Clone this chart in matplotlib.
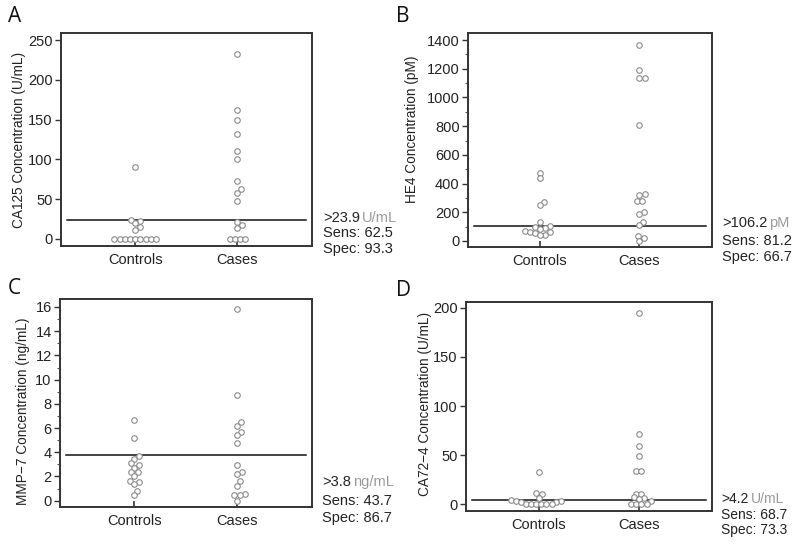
import numpy as np
import matplotlib
matplotlib.use('Agg')
import matplotlib.pyplot as plt
from matplotlib.ticker import MultipleLocator

plt.rcParams['font.family'] = ['Liberation Sans', 'DejaVu Sans']

groups = ['Controls', 'Cases']

# A - CA125 (U/mL)
ca125_controls = [91, 23.8, 23.0, 19.7, 14.3, 10.9, 0, 0, 0, 0, 0, 0, 0, 0, 0]
ca125_cases = [233, 162, 149, 132, 111, 101, 72.6, 62.5, 57.9, 47, 20.6, 17.2, 13.4, 0, 0, 0, 0]
ca125_cut, ca125_unit, ca125_sens, ca125_spec = '23.9', 'U/mL', '62.5', '93.3'

# B - HE4 (pM)
he4_controls = [475, 438, 269, 248, 134, 105, 95, 90, 85, 70, 65, 60, 55, 45, 40]
he4_cases = [1368, 1194, 1134, 1138, 809, 329, 322, 280, 280, 202, 190, 135, 112, 35, 20, 0]
he4_cut, he4_unit, he4_sens, he4_spec = '106.2', 'pM', '81.2', '66.7'

# C - MMP-7 (ng/mL)
mmp7_controls = [6.69, 5.15, 3.7, 3.47, 3.08, 2.92, 2.73, 2.4, 2.34, 2.07, 1.6, 1.54, 1.4, 0.83, 0.47]
mmp7_cases = [15.86, 8.73, 6.5, 6.2, 5.7, 5.4, 4.76, 2.92, 2.34, 2.2, 1.6, 1.24, 0.52, 0.44, 0.44, 0]
mmp7_cut, mmp7_unit, mmp7_sens, mmp7_spec = '3.8', 'ng/mL', '43.7', '86.7'

# D - CA72-4 (U/mL)
ca724_controls = [32.7, 10.9, 9.9, 6.1, 4.0, 3.5, 3.0, 2.5, 2.0, 0, 0, 0, 0, 0, 0]
ca724_cases = [194.6, 71.8, 59.5, 48.6, 33.7, 33.7, 10.5, 10.5, 7.0, 6.5, 5.0, 2.7, 0, 0, 0, 0]
ca724_cut, ca724_unit, ca724_sens, ca724_spec = '4.2', 'U/mL', '68.7', '73.3'

W, H = 800, 544
fig = plt.figure(figsize=(W / 100, H / 100), dpi=100)

panels = [
    dict(letter='A', ctrl=ca125_controls, case=ca125_cases, cut=ca125_cut, unit=ca125_unit,
         sens=ca125_sens, spec=ca125_spec, ylabel='CA125 Concentration (U/mL)',
         box=(61, 33, 312, 246), ylim=(-9, 259), major=50, minor=None,
         lab=(-0.14, 0.5), letter_xy=(8, 17), txt=(323, 218, 233, 249), fs=10.5),
    dict(letter='B', ctrl=he4_controls, case=he4_cases, cut=he4_cut, unit=he4_unit,
         sens=he4_sens, spec=he4_spec, ylabel='HE4 Concentration (pM)',
         box=(468, 33, 712, 247), ylim=(-42, 1449), major=200, minor=100,
         lab=(-0.2, 0.55), letter_xy=(396, 17), txt=(722, 223, 241, 257), fs=10.5),
    dict(letter='C', ctrl=mmp7_controls, case=mmp7_cases, cut=mmp7_cut, unit=mmp7_unit,
         sens=mmp7_sens, spec=mmp7_spec, ylabel='MMP\u22127 Concentration (ng/mL)',
         box=(60, 299, 312, 507), ylim=(-0.52, 16.66), major=2, minor=1,
         lab=(-0.12, 0.46), letter_xy=(8, 288), txt=(322, 482, 501, 518), fs=10.5),
    dict(letter='D', ctrl=ca724_controls, case=ca724_cases, cut=ca724_cut, unit=ca724_unit,
         sens=ca724_sens, spec=ca724_spec, ylabel='CA72\u22124 Concentration (U/mL)',
         box=(466, 302, 712, 511), ylim=(-7, 206), major=50, minor=None,
         lab=(-0.14, 0.51), letter_xy=(396, 290), txt=(721, 499, 515, 530), fs=10),
]


def swarm_x(ax, xc, values, d):
    # simple beeswarm in pixel space, ties laid out as a centred row
    trans = ax.transData
    x0 = trans.transform((xc, 0))[0]
    vals = np.asarray(values, dtype=float)
    ypix = np.array([trans.transform((xc, v))[1] for v in vals])
    order = np.argsort(vals, kind='stable')
    offs = np.zeros(len(vals))
    placed = []
    i = 0
    while i < len(order):
        j = i
        while j + 1 < len(order) and vals[order[j + 1]] == vals[order[i]]:
            j += 1
        n = j - i + 1
        if n > 1:
            for k in range(n):
                idx = order[i + k]
                offs[idx] = (k - (n - 1) / 2) * d
                placed.append((offs[idx], ypix[idx]))
        else:
            idx = order[i]
            y = ypix[idx]
            ivs = []
            for px, py in placed:
                dy = abs(py - y)
                if dy < d:
                    h = np.sqrt(d * d - dy * dy)
                    ivs.append((px - h, px + h))
            cands = [0.0] + [a for a, b in ivs] + [b for a, b in ivs]
            cands.sort(key=lambda c: (abs(c), -c))
            best = 0.0
            for c in cands:
                if all(not (a + 1e-6 < c < b - 1e-6) for a, b in ivs):
                    best = c
                    break
            offs[idx] = best
            placed.append((best, y))
        i = j + 1
    inv = trans.inverted()
    return [inv.transform((x0 + offs[k], ypix[k]))[0] for k in range(len(vals))]


txt_color = '#222222'
for p in panels:
    x1, y1, x2, y2 = p['box']
    ax = fig.add_axes([x1 / W, 1 - y2 / H, (x2 - x1) / W, (y2 - y1) / H])
    ax.set_xlim(0.275, 2.73)
    ax.set_ylim(*p['ylim'])
    for s in ax.spines.values():
        s.set_linewidth(1.4)
        s.set_color('#333333')

    ax.yaxis.set_major_locator(MultipleLocator(p['major']))
    if p['minor']:
        ax.yaxis.set_minor_locator(MultipleLocator(p['minor']))
    ax.set_yticks([t for t in ax.get_yticks() if 0 <= t <= p['ylim'][1]])
    ax.tick_params(axis='y', direction='out', length=4, width=1, colors='#333333',
                   labelsize=10.5, labelcolor=txt_color, pad=2)
    ax.tick_params(axis='y', which='minor', direction='out', length=2.5, width=0.8, colors='#555555')
    ax.set_xticks([1, 2])
    ax.set_xticklabels(groups)
    ax.tick_params(axis='x', direction='in', length=4, width=1.2, colors='#333333',
                   labelsize=10.5, labelcolor=txt_color, pad=5)

    ax.set_ylabel(p['ylabel'], fontsize=9.8, color=txt_color)
    ax.yaxis.set_label_coords(*p['lab'])

    ax.axhline(float(p['cut']), xmin=0.025, xmax=0.975, color='#111111', lw=1.1, zorder=1)

    for xc, vals in ((1, p['ctrl']), (2, p['case'])):
        xs = swarm_x(ax, xc, vals, 5.2)
        ax.plot(xs, vals, 'o', ms=4.0, mfc='white', mec='#8a8a8a', mew=0.8,
                linestyle='none', zorder=3, clip_on=False)

    lx, ly = p['letter_xy']
    fig.text(lx / W, 1 - ly / H, p['letter'], fontsize=15, va='center', ha='left',
             family=['Open Sans', 'DejaVu Sans'], color='#111111')

    tx, t1, t2, t3 = p['txt']
    fs = p['fs']
    t = fig.text(tx / W, 1 - t1 / H, '>' + p['cut'], fontsize=fs, va='center', color=txt_color)
    bb = t.get_window_extent(renderer=fig.canvas.get_renderer())
    fig.text((bb.x1 + 2) / W, 1 - t1 / H, p['unit'], fontsize=fs, va='center', color='#9a9a9a')
    fig.text(tx / W, 1 - t2 / H, 'Sens: ' + p['sens'], fontsize=fs, va='center', color=txt_color)
    fig.text(tx / W, 1 - t3 / H, 'Spec: ' + p['spec'], fontsize=fs, va='center', color=txt_color)

fig.savefig('out.png', dpi=100)
